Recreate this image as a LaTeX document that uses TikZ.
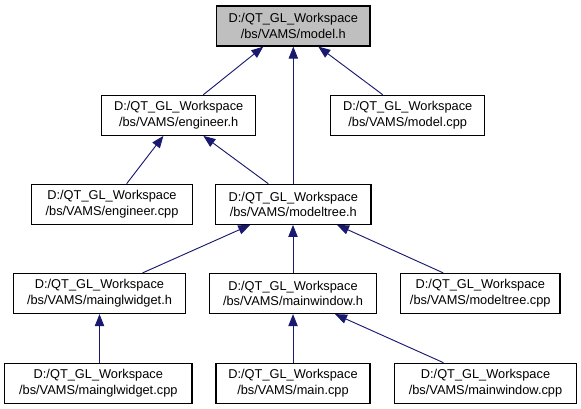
\documentclass[tikz,border=0pt]{standalone}
\usepackage{fontspec}
\setmainfont{Liberation Sans}
\usepackage{tikz}
\usetikzlibrary{arrows.meta,positioning}
\definecolor{dxnavy}{RGB}{25,25,112}
\definecolor{dxgray}{RGB}{191,191,191}
\tikzstyle{edge} = [line width=0.7pt,-{Triangle[length=9pt,width=7pt]},color=dxnavy]
\tikzstyle{filenode} = [rectangle, minimum height=30pt, inner sep=0pt, align=center, draw=black, fill=white, line width=0.9pt, font=\fontsize{9.6}{11.8}\selectfont]

\begin{document}
\begin{tikzpicture}[x=0.75pt, y=-0.75pt]
\useasboundingbox (0,0) rectangle (581,409);

\node[filenode, minimum width=115pt, fill=dxgray] (mh) at (293.3,26) {D:/QT\_GL\_Workspace\\/bs/VAMS/model.h};
\node[filenode, minimum width=115.5pt] (eh) at (178.7,115.3) {D:/QT\_GL\_Workspace\\/bs/VAMS/engineer.h};
\node[filenode, minimum width=115.5pt] (mc) at (407.7,115.3) {D:/QT\_GL\_Workspace\\/bs/VAMS/model.cpp};
\node[filenode, minimum width=120.5pt] (ec) at (112,204.3) {D:/QT\_GL\_Workspace\\/bs/VAMS/engineer.cpp};
\node[filenode, minimum width=116.5pt] (mt) at (293.3,204.3) {D:/QT\_GL\_Workspace\\/bs/VAMS/modeltree.h};
\node[filenode, minimum width=129.3pt] (mg) at (99.5,293.5) {D:/QT\_GL\_Workspace\\/bs/VAMS/mainglwidget.h};
\node[filenode, minimum width=125.5pt] (mw) at (293,293.5) {D:/QT\_GL\_Workspace\\/bs/VAMS/mainwindow.h};
\node[filenode, minimum width=119.5pt] (tc) at (480.3,293.5) {D:/QT\_GL\_Workspace\\/bs/VAMS/modeltree.cpp};
\node[filenode, minimum width=140.5pt] (gc) at (98.3,383.3) {D:/QT\_GL\_Workspace\\/bs/VAMS/mainglwidget.cpp};
\node[filenode, minimum width=115.5pt] (mn) at (293,383.3) {D:/QT\_GL\_Workspace\\/bs/VAMS/main.cpp};
\node[filenode, minimum width=136.8pt] (wc) at (485.5,383.3) {D:/QT\_GL\_Workspace\\/bs/VAMS/mainwindow.cpp};

\draw[edge] ([xshift=18.5pt]eh.north) -- ([xshift=-22.5pt]mh.south);
\draw[edge] ([xshift=-18.75pt]mc.north) -- ([xshift=18.75pt]mh.south);
\draw[edge] (mt.north) -- (mh.south);
\draw[edge] ([xshift=11pt]ec.north) -- ([xshift=-11.5pt]eh.south);
\draw[edge] ([xshift=-18.75pt]mt.north) -- ([xshift=18.5pt]eh.south);
\draw[edge] ([xshift=32.3pt]mg.north) -- ([xshift=-32.3pt]mt.south);
\draw[edge] (mw.north) -- (mw.north |- mt.south);
\draw[edge] ([xshift=-27.8pt]tc.north) -- ([xshift=32.8pt]mt.south);
\draw[edge] (mg.south |- gc.north) -- (mg.south);
\draw[edge] (mn.north) -- (mn.north |- mw.south);
\draw[edge] ([xshift=-31.5pt]wc.north) -- ([xshift=31.5pt]mw.south);
\end{tikzpicture}
\end{document}
